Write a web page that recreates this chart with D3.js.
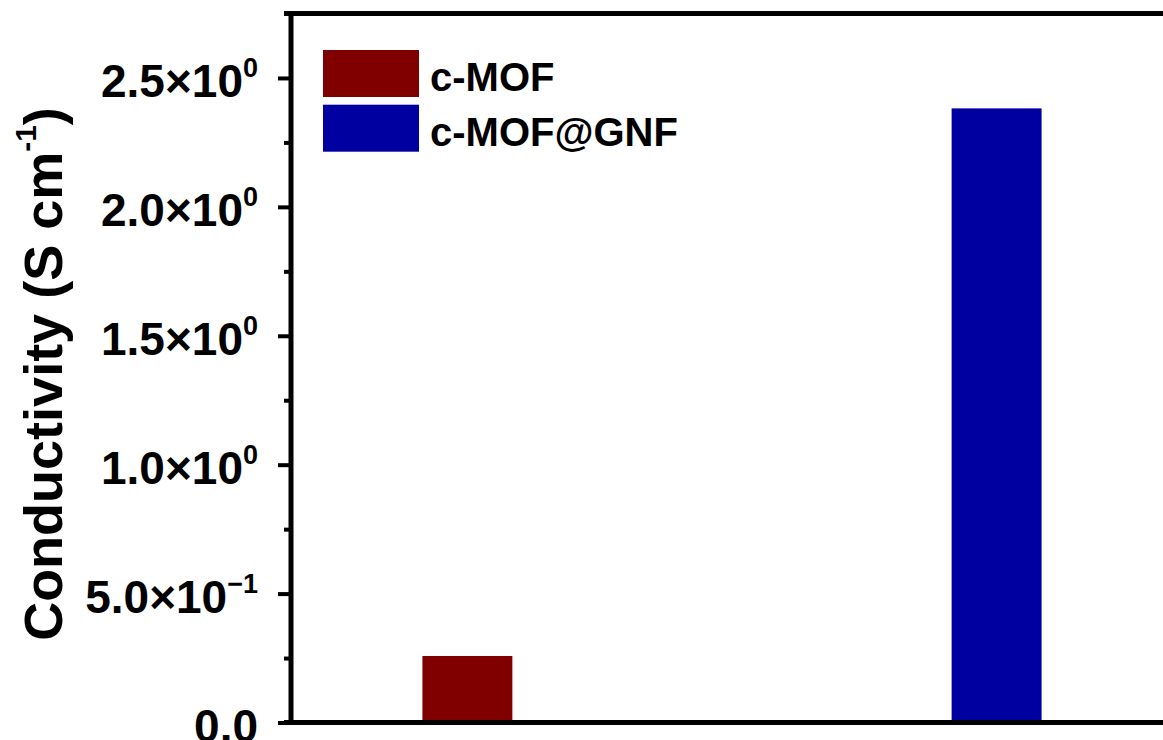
<!DOCTYPE html>
<html lang="en">
<head>
  <meta charset="UTF-8">
  <title>Conductivity</title>
  <script src="https://d3js.org/d3.v7.min.js"></script>
  <style>
    body { margin: 0; background: #fff; }
    svg { display: block; }
    text {
      font-family: "Liberation Sans", Arial, sans-serif;
      font-weight: bold;
      fill: #000;
    }
    .frame { stroke: #000; stroke-width: 5px; fill: none; }
    .tick line { stroke: #000; stroke-width: 4px; }
  </style>
</head>
<body>
  <svg width="1163" height="740"></svg>
  <script>
    // data
    const categories = ["c-MOF", "c-MOF@GNF"];
    const positions = [1, 2];
    const conductivity = [0.258, 2.382];
    const colors = ["#800000", "#0000a0"];

    const tickValues = [0, 0.5, 1.0, 1.5, 2.0, 2.5];
    const tickBase = ["0.0", "5.0×10", "1.0×10", "1.5×10", "2.0×10", "2.5×10"];
    const tickExp = ["", "−1", "0", "0", "0", "0"];
    const minorTicks = [0.25, 0.75, 1.25, 1.75, 2.25];

    const svg = d3.select("svg");

    const plotL = 291, plotR = 1173, plotT = 13.5, plotB = 722.5;

    const x = d3.scaleLinear().domain([2 / 3, 7 / 3]).range([plotL, plotR]);
    const y = d3.scaleLinear().domain([0, 2.75]).range([plotB, plotT]);
    const barW = 0.17;

    // bars
    svg.append("g").selectAll("rect")
      .data(conductivity)
      .join("rect")
      .attr("x", (d, i) => x(positions[i] - barW / 2))
      .attr("width", (d, i) => x(positions[i] + barW / 2) - x(positions[i] - barW / 2))
      .attr("y", d => y(d))
      .attr("height", d => y(0) - y(d))
      .attr("fill", (d, i) => colors[i]);

    // minor ticks
    svg.append("g")
      .attr("transform", `translate(${plotL},0)`)
      .call(d3.axisLeft(y).tickValues(minorTicks).tickSize(7).tickFormat(""))
      .call(g => g.select(".domain").remove());

    // major ticks with superscript labels
    const yAxis = svg.append("g")
      .attr("transform", `translate(${plotL},0)`)
      .call(d3.axisLeft(y).tickValues(tickValues).tickSize(13).tickPadding(20).tickFormat(""))
      .call(g => g.select(".domain").remove());

    yAxis.selectAll(".tick text")
      .attr("dy", null)
      .attr("y", 19)
      .attr("font-size", 46)
      .attr("font-family", null)
      .each(function (d, i) {
        const t = d3.select(this);
        t.append("tspan").text(tickBase[i]);
        if (tickExp[i]) {
          t.append("tspan").attr("dy", -20).attr("font-size", 27).text(tickExp[i]);
        }
      });

    // frame
    svg.append("line").attr("class", "frame")
      .attr("x1", plotL).attr("x2", plotL).attr("y1", plotT - 2.5).attr("y2", plotB + 2.5);
    svg.append("line").attr("class", "frame")
      .attr("x1", plotL - 7).attr("x2", plotR).attr("y1", plotB).attr("y2", plotB);
    svg.append("line").attr("class", "frame")
      .attr("x1", plotL - 7).attr("x2", plotR).attr("y1", plotT).attr("y2", plotT);
    svg.append("line").attr("class", "frame")
      .attr("x1", plotR).attr("x2", plotR).attr("y1", plotT).attr("y2", plotB);

    // y title
    const title = svg.append("text")
      .attr("transform", `translate(62,${(plotT + plotB) / 2 + 6}) rotate(-90)`)
      .attr("text-anchor", "middle")
      .attr("font-size", 54);
    title.append("tspan").text("Conductivity (S cm");
    title.append("tspan").attr("dy", -26).attr("font-size", 30).text("-1");
    title.append("tspan").attr("dy", 26).text(")");

    // legend
    const legend = svg.append("g").attr("transform", "translate(323,50)");
    const item = legend.selectAll("g")
      .data(categories)
      .join("g")
      .attr("transform", (d, i) => `translate(0,${i * 54.7})`);
    item.append("rect")
      .attr("width", 96).attr("height", 47)
      .attr("fill", (d, i) => colors[i]);
    item.append("text")
      .attr("x", 107).attr("y", 41)
      .attr("font-size", 40)
      .text(d => d);
  </script>
</body>
</html>
